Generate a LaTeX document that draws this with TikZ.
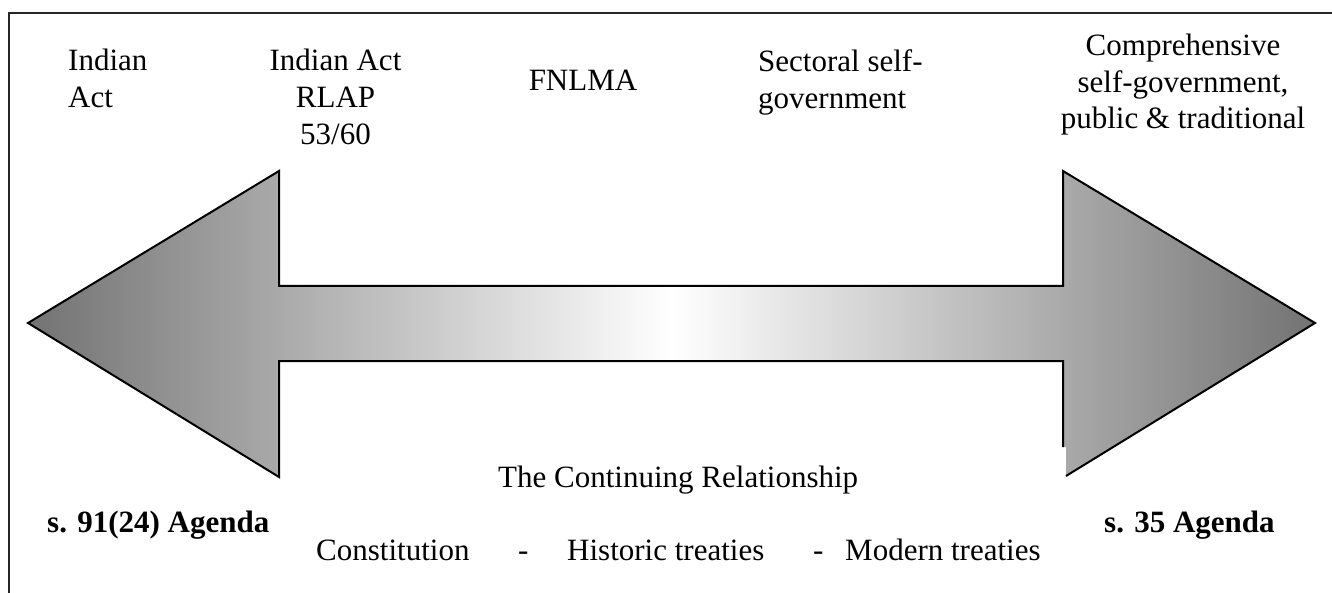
\documentclass[tikz,border=0pt]{standalone}
\usepackage{fontspec}
\setmainfont{Liberation Serif}
\begin{document}
\begin{tikzpicture}[x=1pt,y=-1pt,
  toptext/.style={inner sep=0pt,font=\fontsize{31}{37}\selectfont},
  lowtext/.style={inner sep=0pt,anchor=base west,font=\fontsize{31}{37}\selectfont},
  agenda/.style={inner sep=0pt,anchor=base west,font=\fontsize{31}{37}\selectfont\bfseries},
  frame/.style={line width=1.5pt,black!85},
  outline/.style={line width=2pt,line join=miter}]
\useasboundingbox (0,0) rectangle (1332,593);
% frame (top and left edges)
\coordinate (fl) at (9,593);
\coordinate (fc) at (9,13);
\coordinate (fr) at (1332,13);
\draw[frame] (fl) -- (fc) -- (fr);
% arrow corner points
\coordinate (lt) at (28,323);
\coordinate (lht) at (279,171);
\coordinate (lst) at (279,286);
\coordinate (rst) at (1063,286);
\coordinate (rht) at (1063,171);
\coordinate (rt) at (1315,323);
\coordinate (rhb) at (1066,476);
\coordinate (rgap) at (1066,447);
\coordinate (rgl) at (1063,447);
\coordinate (rsb) at (1063,361);
\coordinate (lsb) at (279,361);
\coordinate (lhb) at (279,477);
% shaded double arrow body
\shade[left color=black!55,right color=black!55,middle color=white]
  (lt) -- (lht) -- (lst) -- (rst) -- (rht) -- (rt) -- (rhb) -- (rgap) -- (rgl) -- (rsb) -- (lsb) -- (lhb) -- cycle;
\draw[outline] (rgl) -- (rsb) -- (lsb) -- (lhb) -- (lt) -- (lht) -- (lst) -- (rst) -- (rht) -- (rt) -- (rhb);
% top labels
\node[toptext,anchor=north west,align=left] (ia) at (68,49) {Indian\\Act};
\node[toptext,anchor=north,align=center] (iar) at (335.5,49) {Indian Act\\RLAP\\53/60};
\node[toptext,anchor=north] (fn) at (583,69.5) {FNLMA};
\node[toptext,anchor=north west,align=left] (ss) at (758,49) {Sectoral self-\\government};
\node[toptext,anchor=north,align=center,font=\fontsize{31}{36.6}\selectfont] (cs) at (1183,34) {Comprehensive\\self-government,\\public \& traditional};
% bottom labels
\node[lowtext] (tcr) at (498,487) {The Continuing Relationship};
\node[agenda] (a91) at (47,532) {s. 91(24) Agenda};
\node[agenda] (a35) at (1104,532) {s. 35 Agenda};
\node[lowtext] (con) at (316,560) {Constitution};
\node[lowtext] (d1) at (518,560) {-};
\node[lowtext] (ht) at (567,560) {Historic treaties};
\node[lowtext] (d2) at (813,560) {-};
\node[lowtext] (mt) at (845,560) {Modern treaties};
\end{tikzpicture}
\end{document}
